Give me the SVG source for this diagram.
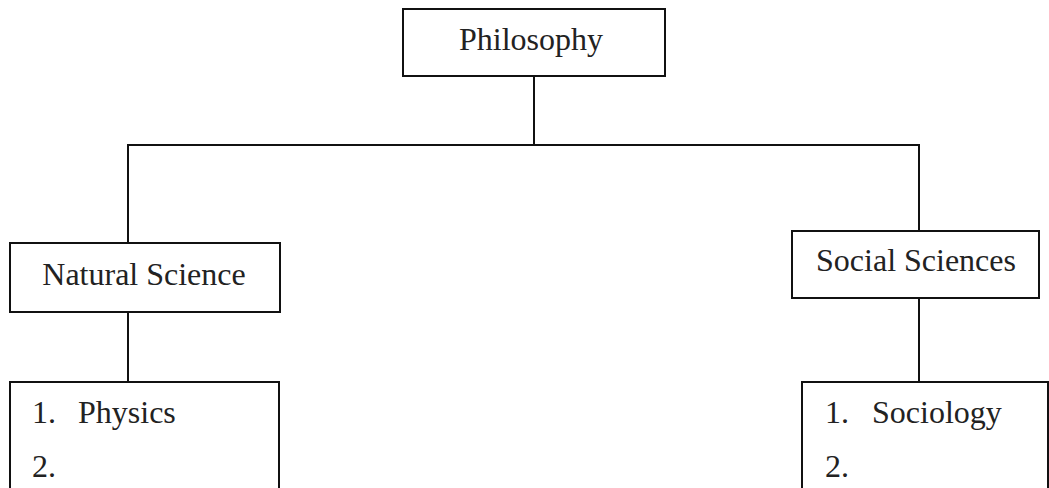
<svg xmlns="http://www.w3.org/2000/svg" width="1049" height="488" viewBox="0 0 1049 488">
<style>
.box{fill:#fff;stroke:#111;stroke-width:2}
.ln{stroke:#111;stroke-width:2;fill:none}
.t{font-family:'Liberation Serif','Times New Roman','DejaVu Serif',serif;font-size:32px;fill:#222}
</style>
<rect width="1049" height="488" fill="#fff"/>
<g id="connectors">
<line class="ln" x1="534" y1="76" x2="534" y2="145"/>
<polyline class="ln" points="128,243 128,145 919,145 919,231"/>
<line class="ln" x1="128" y1="312" x2="128" y2="382"/>
<line class="ln" x1="919" y1="298" x2="919" y2="382"/>
</g>
<g id="philosophy">
<rect class="box" x="403" y="9" width="262" height="67"/>
<text class="t" x="531" y="50" text-anchor="middle">Philosophy</text>
</g>
<g id="natural-science">
<rect class="box" x="10" y="243" width="270" height="69"/>
<text class="t" x="144" y="285" text-anchor="middle">Natural Science</text>
</g>
<g id="social-sciences">
<rect class="box" x="792" y="231" width="247" height="67"/>
<text class="t" x="916" y="271" text-anchor="middle">Social Sciences</text>
</g>
<g id="natural-list">
<rect class="box" x="10" y="382" width="269" height="120"/>
<text class="t" x="32" y="423">1.</text>
<text class="t" x="78" y="423">Physics</text>
<text class="t" x="32" y="477">2.</text>
</g>
<g id="social-list">
<rect class="box" x="802" y="382" width="246" height="120"/>
<text class="t" x="825" y="423">1.</text>
<text class="t" x="872" y="423">Sociology</text>
<text class="t" x="825" y="477">2.</text>
</g>
</svg>
